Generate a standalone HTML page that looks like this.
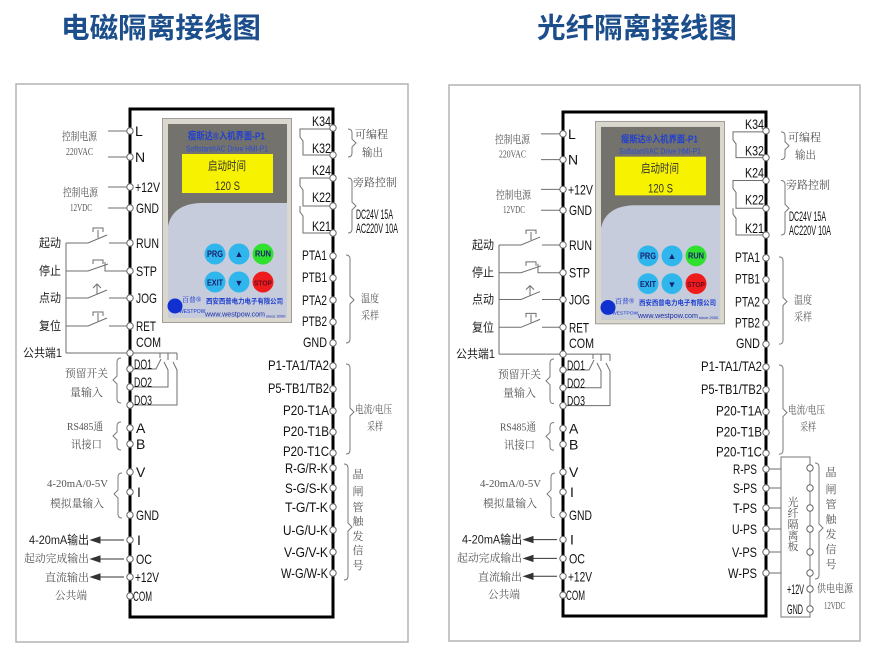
<!DOCTYPE html>
<html><head><meta charset="utf-8">
<style>
html,body{margin:0;padding:0;background:#fff;}
svg{display:block;}
text{dominant-baseline:central;}
.a{font-family:"Liberation Sans","Noto Sans CJK SC",sans-serif;fill:#111;font-size:14px;}
.sr{font-family:"Liberation Serif","Noto Serif CJK SC",serif;fill:#555;font-size:11px;}
.sn{font-family:"Liberation Sans","Noto Sans CJK SC",sans-serif;fill:#222;font-size:12px;}
.ttl{font-family:"Liberation Sans","Noto Sans CJK SC",sans-serif;fill:#1b4e8b;font-size:28px;font-weight:bold;}
.w{stroke:#6e6e6e;stroke-width:1;fill:none;}
.br{stroke:#7a7a7a;stroke-width:1;fill:none;}
.c{fill:#fff;stroke:#666;stroke-width:1;}
</style></head><body>
<svg width="875" height="663" viewBox="0 0 875 663" xmlns="http://www.w3.org/2000/svg">
<rect width="875" height="663" fill="#fff"/>
<text class="ttl" x="61" y="28" textLength="200" lengthAdjust="spacingAndGlyphs">电磁隔离接线图</text>
<text class="ttl" x="537" y="28" textLength="200" lengthAdjust="spacingAndGlyphs">光纤隔离接线图</text>

<rect x="16" y="84" width="392" height="558" fill="none" stroke="#b3b3b3" stroke-width="1.5"/>
<rect x="449" y="85" width="411" height="556" fill="none" stroke="#b3b3b3" stroke-width="1.5"/>

<!-- ================= LEFT COMMON ================= -->
<g>
<path d="M130,109 H333 V617 H130 Z" fill="none" stroke="#000" stroke-width="3"/>
<!-- HMI -->
<rect x="162.5" y="118.5" width="129" height="204" fill="#dad8ce" stroke="#a09e96"/>
<rect x="168" y="124" width="119" height="194" fill="#74726c"/>
<path d="M168,226 C171,212 181,204 200,203 L287,203 L287,318 L168,318 Z" fill="#c7ccdc"/>
<text x="188" y="137" font-family="Liberation Sans,Noto Sans CJK SC,sans-serif" font-size="10" font-weight="bold" fill="#1f3fd0" textLength="77" lengthAdjust="spacingAndGlyphs">瘦斯达®入机界面-P1</text>
<text x="186" y="149" font-family="Liberation Sans,sans-serif" font-size="8" fill="#2a4bd0" textLength="82" lengthAdjust="spacingAndGlyphs">Softstart®AC Drive HMI-P1</text>
<rect x="182" y="154" width="91" height="39" fill="#f6f200"/>
<text x="208" y="166" font-family="Liberation Sans,Noto Sans CJK SC,sans-serif" font-size="12" fill="#333" textLength="38" lengthAdjust="spacingAndGlyphs">启动时间</text>
<text x="215" y="186" font-family="Liberation Sans,sans-serif" font-size="12" fill="#333" textLength="25" lengthAdjust="spacingAndGlyphs">120 S</text>
<circle cx="215" cy="254" r="10.5" fill="#2fb6ec"/>
<circle cx="239" cy="254" r="10.5" fill="#2fb6ec"/>
<circle cx="263" cy="254" r="10.5" fill="#2fe02f"/>
<circle cx="215" cy="282" r="10.5" fill="#2fb6ec"/>
<circle cx="239" cy="282" r="10.5" fill="#2fb6ec"/>
<circle cx="263" cy="282" r="10.5" fill="#ee1c1c"/>
<g font-family="Liberation Sans,sans-serif" font-weight="bold" fill="#1a2070">
<text x="207" y="254" font-size="9" textLength="16" lengthAdjust="spacingAndGlyphs">PRG</text>
<text x="239" y="254" font-size="9" text-anchor="middle">▲</text>
<text x="255" y="254" font-size="8" textLength="16" lengthAdjust="spacingAndGlyphs">RUN</text>
<text x="207" y="283" font-size="8" textLength="16" lengthAdjust="spacingAndGlyphs">EXIT</text>
<text x="239" y="283" font-size="9" text-anchor="middle">▼</text>
<text x="254" y="283" font-size="7.5" fill="#6a0a20" textLength="18" lengthAdjust="spacingAndGlyphs">STOP</text>
</g>
<circle cx="175" cy="306" r="7.5" fill="#1030d0"/>
<text x="182" y="300" font-family="Liberation Serif,Noto Serif CJK SC,serif" font-size="7" fill="#1030d0">百普®</text>
<text x="179" y="312" font-family="Liberation Sans,sans-serif" font-size="5" fill="#1030d0">WESTPOW</text>
<text x="206" y="302" font-family="Liberation Sans,Noto Sans CJK SC,sans-serif" font-size="7" font-weight="bold" fill="#1d3fcf" textLength="77" lengthAdjust="spacingAndGlyphs">西安西普电力电子有限公司</text>
<text x="205" y="314" font-family="Liberation Sans,sans-serif" font-size="7.5" fill="#1d2fa0" textLength="60" lengthAdjust="spacingAndGlyphs">www.westpow.com</text>
<text x="266" y="316" font-family="Liberation Sans,sans-serif" font-size="4" fill="#1d2fa0">since 2000</text>

<!-- left wiring -->
<g class="w">
<path d="M108,131 H127 M108,157 H127 M108,187 H127 M108,208 H127"/>
<path d="M66,243 V353"/>
<path d="M66,243 H88 L107,235 M109,243 H127 M98,238 V230 M93,232 V228 H103 V232"/>
<path d="M66,271 H88 L108,264 M105,262 V271 H127 M93,264 V260 H103 V264"/>
<path d="M66,298 H88 L107,290 M109,298 H127 M97,294 V285 M93,288 L97,284 L101,288"/>
<path d="M66,326 H88 L107,318 M109,326 H127 M98,321 V313 M93,316 V312 H103 V316"/>
<path d="M66,353 H177"/>
<path d="M133,369 H156 L161,359 M160,353 V358"/>
<path d="M133,387 H168 V370 L164,362 M168,353 V360"/>
<path d="M133,405 H177 V370 L173,362 M177,353 V360"/>
<path d="M333,129 H300 V137 L303,141 V155 H333"/>
<path d="M333,178 H300 V186 L303,190 V206 H333"/>
<path d="M300,206 V212 L303,216 V233 H333"/>
</g>
<g stroke="#333" stroke-width="1" fill="#333">
<path d="M98,540 H124 M98,559 H124 M98,577 H124" fill="none"/>
<polygon points="91,540 100,537 100,543"/>
<polygon points="91,559 100,556 100,562"/>
<polygon points="91,577 100,574 100,580"/>
</g>
<!-- braces -->
<g class="br">
<path d="M121,358 Q117,358 117,362 V376 L113,380 L117,384 V399 Q117,403 121,403"/>
<path d="M121,422 Q117,422 117,426 V432 L113,436 L117,440 V446 Q117,450 121,450"/>
<path d="M122,473 Q118,473 118,477 V490 L114,494 L118,498 V514 Q118,518 122,518"/>
<path d="M348,129 Q352,129 352,133 V139 L356,143 L352,147 V153 Q352,157 348,157"/>
<path d="M348,178 Q352,178 352,182 V202 L356,206 L352,210 V229 Q352,233 348,233"/>
<path d="M346,255 Q350,255 350,259 V296 L354,300 L350,304 V339 Q350,343 346,343"/>
<path d="M346,364 Q350,364 350,368 V408 L354,412 L350,416 V450 Q350,454 346,454"/>
</g>
<!-- circles -->
<g class="c">
<circle cx="130" cy="131" r="3.2"/><circle cx="130" cy="157" r="3.2"/><circle cx="130" cy="187" r="3.2"/><circle cx="130" cy="208" r="3.2"/>
<circle cx="130" cy="243" r="3.2"/><circle cx="130" cy="271" r="3.2"/><circle cx="130" cy="298" r="3.2"/><circle cx="130" cy="326" r="3.2"/>
<circle cx="130" cy="353" r="3.2"/><circle cx="130" cy="369" r="3.2"/><circle cx="130" cy="387" r="3.2"/><circle cx="130" cy="405" r="3.2"/>
<circle cx="130" cy="428" r="3.2"/><circle cx="130" cy="444" r="3.2"/><circle cx="130" cy="472" r="3.2"/><circle cx="130" cy="492" r="3.2"/>
<circle cx="130" cy="515" r="3.2"/><circle cx="130" cy="540" r="3.2"/><circle cx="130" cy="559" r="3.2"/><circle cx="130" cy="577" r="3.2"/><circle cx="130" cy="596" r="3.2"/>
<circle cx="333" cy="128" r="3.2"/><circle cx="333" cy="155" r="3.2"/><circle cx="333" cy="178" r="3.2"/><circle cx="333" cy="206" r="3.2"/><circle cx="333" cy="233" r="3.2"/>
<circle cx="333" cy="256" r="3.2"/><circle cx="333" cy="278" r="3.2"/><circle cx="333" cy="300" r="3.2"/><circle cx="333" cy="322" r="3.2"/><circle cx="333" cy="343" r="3.2"/>
<circle cx="333" cy="366" r="3.2"/><circle cx="333" cy="389" r="3.2"/><circle cx="333" cy="411" r="3.2"/><circle cx="333" cy="432" r="3.2"/><circle cx="333" cy="453" r="3.2"/>
</g>
<!-- terminal labels -->
<text class="a" x="135" y="131" font-size="13">L</text>
<text class="a" x="135" y="157" font-size="13">N</text>
<text class="a" x="135" y="187" textLength="25" lengthAdjust="spacingAndGlyphs">+12V</text>
<text class="a" x="136" y="208" textLength="23" lengthAdjust="spacingAndGlyphs">GND</text>
<text class="a" x="136" y="243" textLength="23" lengthAdjust="spacingAndGlyphs">RUN</text>
<text class="a" x="136" y="271" textLength="21" lengthAdjust="spacingAndGlyphs">STP</text>
<text class="a" x="136" y="298" textLength="21" lengthAdjust="spacingAndGlyphs">JOG</text>
<text class="a" x="136" y="326" textLength="20" lengthAdjust="spacingAndGlyphs">RET</text>
<text class="a" x="136" y="342" textLength="25" lengthAdjust="spacingAndGlyphs">COM</text>
<text class="a" x="134" y="364" font-size="11" textLength="18" lengthAdjust="spacingAndGlyphs">DO1</text>
<text class="a" x="134" y="382" font-size="11" textLength="18" lengthAdjust="spacingAndGlyphs">DO2</text>
<text class="a" x="134" y="400" font-size="11" textLength="18" lengthAdjust="spacingAndGlyphs">DO3</text>
<text class="a" x="136" y="428" font-size="13">A</text>
<text class="a" x="136" y="444" font-size="13">B</text>
<text class="a" x="136" y="472" font-size="13">V</text>
<text class="a" x="137" y="492" font-size="13">I</text>
<text class="a" x="136" y="515" textLength="23" lengthAdjust="spacingAndGlyphs">GND</text>
<text class="a" x="137" y="540" font-size="13">I</text>
<text class="a" x="136" y="559" textLength="16" lengthAdjust="spacingAndGlyphs">OC</text>
<text class="a" x="135" y="577" textLength="24" lengthAdjust="spacingAndGlyphs">+12V</text>
<text class="a" x="133" y="596" font-size="10" textLength="19" lengthAdjust="spacingAndGlyphs">COM</text>
<text class="a" x="312" y="121" textLength="19" lengthAdjust="spacingAndGlyphs">K34</text>
<text class="a" x="312" y="148" textLength="19" lengthAdjust="spacingAndGlyphs">K32</text>
<text class="a" x="312" y="170" textLength="19" lengthAdjust="spacingAndGlyphs">K24</text>
<text class="a" x="312" y="197" textLength="19" lengthAdjust="spacingAndGlyphs">K22</text>
<text class="a" x="312" y="226" textLength="19" lengthAdjust="spacingAndGlyphs">K21</text>
<text class="a" x="302" y="255" textLength="25" lengthAdjust="spacingAndGlyphs">PTA1</text>
<text class="a" x="302" y="277" textLength="25" lengthAdjust="spacingAndGlyphs">PTB1</text>
<text class="a" x="302" y="300" textLength="25" lengthAdjust="spacingAndGlyphs">PTA2</text>
<text class="a" x="302" y="321" textLength="25" lengthAdjust="spacingAndGlyphs">PTB2</text>
<text class="a" x="303" y="342" textLength="24" lengthAdjust="spacingAndGlyphs">GND</text>
<text class="a" x="268" y="365" textLength="61" lengthAdjust="spacingAndGlyphs">P1-TA1/TA2</text>
<text class="a" x="268" y="388" textLength="61" lengthAdjust="spacingAndGlyphs">P5-TB1/TB2</text>
<text class="a" x="283" y="410" textLength="46" lengthAdjust="spacingAndGlyphs">P20-T1A</text>
<text class="a" x="283" y="431" textLength="46" lengthAdjust="spacingAndGlyphs">P20-T1B</text>
<text class="a" x="283" y="451" textLength="46" lengthAdjust="spacingAndGlyphs">P20-T1C</text>
<!-- left-side Chinese labels -->
<text class="sr" x="62" y="137" font-size="10" textLength="35" lengthAdjust="spacingAndGlyphs">控制电源</text>
<text class="sr" x="66" y="152" font-size="10" textLength="27" lengthAdjust="spacingAndGlyphs">220VAC</text>
<text class="sr" x="63" y="193" font-size="10" textLength="35" lengthAdjust="spacingAndGlyphs">控制电源</text>
<text class="sr" x="70" y="208" font-size="10" textLength="22" lengthAdjust="spacingAndGlyphs">12VDC</text>
<text class="sn" x="39" y="243" textLength="22" lengthAdjust="spacingAndGlyphs">起动</text>
<text class="sn" x="39" y="271" textLength="22" lengthAdjust="spacingAndGlyphs">停止</text>
<text class="sn" x="39" y="298" textLength="22" lengthAdjust="spacingAndGlyphs">点动</text>
<text class="sn" x="39" y="326" textLength="22" lengthAdjust="spacingAndGlyphs">复位</text>
<text class="sn" x="23" y="353" textLength="39" lengthAdjust="spacingAndGlyphs">公共端1</text>
<text class="sr" x="65" y="374" textLength="43" lengthAdjust="spacingAndGlyphs">预留开关</text>
<text class="sr" x="70" y="393" textLength="33" lengthAdjust="spacingAndGlyphs">量输入</text>
<text class="sr" x="67" y="427" textLength="36" lengthAdjust="spacingAndGlyphs">RS485通</text>
<text class="sr" x="71" y="445" textLength="31" lengthAdjust="spacingAndGlyphs">讯接口</text>
<text class="sr" x="47" y="484" textLength="61" lengthAdjust="spacingAndGlyphs">4-20mA/0-5V</text>
<text class="sr" x="50" y="504" textLength="54" lengthAdjust="spacingAndGlyphs">模拟量输入</text>
<text class="sn" x="29" y="540" fill="#111" textLength="60" lengthAdjust="spacingAndGlyphs">4-20mA输出</text>
<text class="sr" x="24" y="559" fill="#333" textLength="65" lengthAdjust="spacingAndGlyphs">起动完成输出</text>
<text class="sr" x="45" y="578" fill="#333" textLength="44" lengthAdjust="spacingAndGlyphs">直流输出</text>
<text class="sr" x="55" y="596" textLength="32" lengthAdjust="spacingAndGlyphs">公共端</text>
<!-- right-side Chinese labels -->
<text class="sr" x="355" y="135" font-size="12" textLength="33" lengthAdjust="spacingAndGlyphs">可编程</text>
<text class="sr" x="362" y="153" font-size="12" textLength="21" lengthAdjust="spacingAndGlyphs">输出</text>
<text class="sr" x="353" y="183" font-size="12" textLength="44" lengthAdjust="spacingAndGlyphs">旁路控制</text>
<text class="a" x="356" y="214" font-size="8" fill="#333" textLength="37" lengthAdjust="spacingAndGlyphs">DC24V 15A</text>
<text class="a" x="356" y="228" font-size="8" fill="#333" textLength="42" lengthAdjust="spacingAndGlyphs">AC220V 10A</text>
<text class="sr" x="361" y="299" font-size="9" textLength="18" lengthAdjust="spacingAndGlyphs">温度</text>
<text class="sr" x="361" y="316" font-size="9" textLength="18" lengthAdjust="spacingAndGlyphs">采样</text>
<text class="sr" x="355" y="410" font-size="10" textLength="37" lengthAdjust="spacingAndGlyphs">电流/电压</text>
<text class="sr" x="367" y="427" font-size="9" textLength="16" lengthAdjust="spacingAndGlyphs">采样</text>
</g>

<!-- LEFT ONLY -->
<g>
<g class="c">
<circle cx="333" cy="468" r="3.2"/><circle cx="333" cy="488" r="3.2"/><circle cx="333" cy="507" r="3.2"/><circle cx="333" cy="530" r="3.2"/><circle cx="333" cy="552" r="3.2"/><circle cx="333" cy="573" r="3.2"/>
</g>
<path class="br" d="M344,464 Q348,464 348,468 V523 L352,527 L348,531 V576 Q348,580 344,580"/>
<text class="a" x="285" y="468" textLength="43" lengthAdjust="spacingAndGlyphs">R-G/R-K</text>
<text class="a" x="285" y="488" textLength="43" lengthAdjust="spacingAndGlyphs">S-G/S-K</text>
<text class="a" x="285" y="507" textLength="43" lengthAdjust="spacingAndGlyphs">T-G/T-K</text>
<text class="a" x="283" y="530" textLength="45" lengthAdjust="spacingAndGlyphs">U-G/U-K</text>
<text class="a" x="284" y="552" textLength="44" lengthAdjust="spacingAndGlyphs">V-G/V-K</text>
<text class="a" x="281" y="573" textLength="47" lengthAdjust="spacingAndGlyphs">W-G/W-K</text>
<g class="sr" text-anchor="middle">
<text x="358" y="475">晶</text><text x="358" y="492">闸</text><text x="358" y="508">管</text><text x="358" y="522">触</text><text x="358" y="537">发</text><text x="358" y="551">信</text><text x="358" y="566">号</text>
</g>
</g>

<!-- ================= RIGHT COMMON ================= -->
<g transform="matrix(1,0,0,0.992,433,3.9)">
<path d="M130,109 H333 V617 H130 Z" fill="none" stroke="#000" stroke-width="3"/>
<rect x="162.5" y="118.5" width="129" height="204" fill="#dad8ce" stroke="#a09e96"/>
<rect x="168" y="124" width="119" height="194" fill="#74726c"/>
<path d="M168,226 C171,212 181,204 200,203 L287,203 L287,318 L168,318 Z" fill="#c7ccdc"/>
<text x="188" y="137" font-family="Liberation Sans,Noto Sans CJK SC,sans-serif" font-size="10" font-weight="bold" fill="#1f3fd0" textLength="77" lengthAdjust="spacingAndGlyphs">瘦斯达®入机界面-P1</text>
<text x="186" y="149" font-family="Liberation Sans,sans-serif" font-size="8" fill="#2a4bd0" textLength="82" lengthAdjust="spacingAndGlyphs">Softstart®AC Drive HMI-P1</text>
<rect x="182" y="154" width="91" height="39" fill="#f6f200"/>
<text x="208" y="166" font-family="Liberation Sans,Noto Sans CJK SC,sans-serif" font-size="12" fill="#333" textLength="38" lengthAdjust="spacingAndGlyphs">启动时间</text>
<text x="215" y="186" font-family="Liberation Sans,sans-serif" font-size="12" fill="#333" textLength="25" lengthAdjust="spacingAndGlyphs">120 S</text>
<circle cx="215" cy="254" r="10.5" fill="#2fb6ec"/>
<circle cx="239" cy="254" r="10.5" fill="#2fb6ec"/>
<circle cx="263" cy="254" r="10.5" fill="#2fe02f"/>
<circle cx="215" cy="282" r="10.5" fill="#2fb6ec"/>
<circle cx="239" cy="282" r="10.5" fill="#2fb6ec"/>
<circle cx="263" cy="282" r="10.5" fill="#ee1c1c"/>
<g font-family="Liberation Sans,sans-serif" font-weight="bold" fill="#1a2070">
<text x="207" y="254" font-size="9" textLength="16" lengthAdjust="spacingAndGlyphs">PRG</text>
<text x="239" y="254" font-size="9" text-anchor="middle">▲</text>
<text x="255" y="254" font-size="8" textLength="16" lengthAdjust="spacingAndGlyphs">RUN</text>
<text x="207" y="283" font-size="8" textLength="16" lengthAdjust="spacingAndGlyphs">EXIT</text>
<text x="239" y="283" font-size="9" text-anchor="middle">▼</text>
<text x="254" y="283" font-size="7.5" fill="#6a0a20" textLength="18" lengthAdjust="spacingAndGlyphs">STOP</text>
</g>
<circle cx="175" cy="306" r="7.5" fill="#1030d0"/>
<text x="182" y="300" font-family="Liberation Serif,Noto Serif CJK SC,serif" font-size="7" fill="#1030d0">百普®</text>
<text x="179" y="312" font-family="Liberation Sans,sans-serif" font-size="5" fill="#1030d0">WESTPOW</text>
<text x="206" y="302" font-family="Liberation Sans,Noto Sans CJK SC,sans-serif" font-size="7" font-weight="bold" fill="#1d3fcf" textLength="77" lengthAdjust="spacingAndGlyphs">西安西普电力电子有限公司</text>
<text x="205" y="314" font-family="Liberation Sans,sans-serif" font-size="7.5" fill="#1d2fa0" textLength="60" lengthAdjust="spacingAndGlyphs">www.westpow.com</text>
<text x="266" y="316" font-family="Liberation Sans,sans-serif" font-size="4" fill="#1d2fa0">since 2000</text>
<g class="w">
<path d="M108,131 H127 M108,157 H127 M108,187 H127 M108,208 H127"/>
<path d="M66,243 V353"/>
<path d="M66,243 H88 L107,235 M109,243 H127 M98,238 V230 M93,232 V228 H103 V232"/>
<path d="M66,271 H88 L108,264 M105,262 V271 H127 M93,264 V260 H103 V264"/>
<path d="M66,298 H88 L107,290 M109,298 H127 M97,294 V285 M93,288 L97,284 L101,288"/>
<path d="M66,326 H88 L107,318 M109,326 H127 M98,321 V313 M93,316 V312 H103 V316"/>
<path d="M66,353 H177"/>
<path d="M133,369 H156 L161,359 M160,353 V358"/>
<path d="M133,387 H168 V370 L164,362 M168,353 V360"/>
<path d="M133,405 H177 V370 L173,362 M177,353 V360"/>
<path d="M333,129 H300 V137 L303,141 V155 H333"/>
<path d="M333,178 H300 V186 L303,190 V206 H333"/>
<path d="M300,206 V212 L303,216 V233 H333"/>
</g>
<g stroke="#333" stroke-width="1" fill="#333">
<path d="M98,540 H124 M98,559 H124 M98,577 H124" fill="none"/>
<polygon points="91,540 100,537 100,543"/>
<polygon points="91,559 100,556 100,562"/>
<polygon points="91,577 100,574 100,580"/>
</g>
<g class="br">
<path d="M121,358 Q117,358 117,362 V376 L113,380 L117,384 V399 Q117,403 121,403"/>
<path d="M121,422 Q117,422 117,426 V432 L113,436 L117,440 V446 Q117,450 121,450"/>
<path d="M122,473 Q118,473 118,477 V490 L114,494 L118,498 V514 Q118,518 122,518"/>
<path d="M348,129 Q352,129 352,133 V139 L356,143 L352,147 V153 Q352,157 348,157"/>
<path d="M348,178 Q352,178 352,182 V202 L356,206 L352,210 V229 Q352,233 348,233"/>
<path d="M346,255 Q350,255 350,259 V296 L354,300 L350,304 V339 Q350,343 346,343"/>
<path d="M346,364 Q350,364 350,368 V408 L354,412 L350,416 V450 Q350,454 346,454"/>
</g>
<g class="c">
<circle cx="130" cy="131" r="3.2"/><circle cx="130" cy="157" r="3.2"/><circle cx="130" cy="187" r="3.2"/><circle cx="130" cy="208" r="3.2"/>
<circle cx="130" cy="243" r="3.2"/><circle cx="130" cy="271" r="3.2"/><circle cx="130" cy="298" r="3.2"/><circle cx="130" cy="326" r="3.2"/>
<circle cx="130" cy="353" r="3.2"/><circle cx="130" cy="369" r="3.2"/><circle cx="130" cy="387" r="3.2"/><circle cx="130" cy="405" r="3.2"/>
<circle cx="130" cy="428" r="3.2"/><circle cx="130" cy="444" r="3.2"/><circle cx="130" cy="472" r="3.2"/><circle cx="130" cy="492" r="3.2"/>
<circle cx="130" cy="515" r="3.2"/><circle cx="130" cy="540" r="3.2"/><circle cx="130" cy="559" r="3.2"/><circle cx="130" cy="577" r="3.2"/><circle cx="130" cy="596" r="3.2"/>
<circle cx="333" cy="128" r="3.2"/><circle cx="333" cy="155" r="3.2"/><circle cx="333" cy="178" r="3.2"/><circle cx="333" cy="206" r="3.2"/><circle cx="333" cy="233" r="3.2"/>
<circle cx="333" cy="256" r="3.2"/><circle cx="333" cy="278" r="3.2"/><circle cx="333" cy="300" r="3.2"/><circle cx="333" cy="322" r="3.2"/><circle cx="333" cy="343" r="3.2"/>
<circle cx="333" cy="366" r="3.2"/><circle cx="333" cy="389" r="3.2"/><circle cx="333" cy="411" r="3.2"/><circle cx="333" cy="432" r="3.2"/><circle cx="333" cy="453" r="3.2"/>
</g>
<text class="a" x="135" y="131" font-size="13">L</text>
<text class="a" x="135" y="157" font-size="13">N</text>
<text class="a" x="135" y="187" textLength="25" lengthAdjust="spacingAndGlyphs">+12V</text>
<text class="a" x="136" y="208" textLength="23" lengthAdjust="spacingAndGlyphs">GND</text>
<text class="a" x="136" y="243" textLength="23" lengthAdjust="spacingAndGlyphs">RUN</text>
<text class="a" x="136" y="271" textLength="21" lengthAdjust="spacingAndGlyphs">STP</text>
<text class="a" x="136" y="298" textLength="21" lengthAdjust="spacingAndGlyphs">JOG</text>
<text class="a" x="136" y="326" textLength="20" lengthAdjust="spacingAndGlyphs">RET</text>
<text class="a" x="136" y="342" textLength="25" lengthAdjust="spacingAndGlyphs">COM</text>
<text class="a" x="134" y="364" font-size="11" textLength="18" lengthAdjust="spacingAndGlyphs">DO1</text>
<text class="a" x="134" y="382" font-size="11" textLength="18" lengthAdjust="spacingAndGlyphs">DO2</text>
<text class="a" x="134" y="400" font-size="11" textLength="18" lengthAdjust="spacingAndGlyphs">DO3</text>
<text class="a" x="136" y="428" font-size="13">A</text>
<text class="a" x="136" y="444" font-size="13">B</text>
<text class="a" x="136" y="472" font-size="13">V</text>
<text class="a" x="137" y="492" font-size="13">I</text>
<text class="a" x="136" y="515" textLength="23" lengthAdjust="spacingAndGlyphs">GND</text>
<text class="a" x="137" y="540" font-size="13">I</text>
<text class="a" x="136" y="559" textLength="16" lengthAdjust="spacingAndGlyphs">OC</text>
<text class="a" x="135" y="577" textLength="24" lengthAdjust="spacingAndGlyphs">+12V</text>
<text class="a" x="133" y="596" font-size="10" textLength="19" lengthAdjust="spacingAndGlyphs">COM</text>
<text class="a" x="312" y="121" textLength="19" lengthAdjust="spacingAndGlyphs">K34</text>
<text class="a" x="312" y="148" textLength="19" lengthAdjust="spacingAndGlyphs">K32</text>
<text class="a" x="312" y="170" textLength="19" lengthAdjust="spacingAndGlyphs">K24</text>
<text class="a" x="312" y="197" textLength="19" lengthAdjust="spacingAndGlyphs">K22</text>
<text class="a" x="312" y="226" textLength="19" lengthAdjust="spacingAndGlyphs">K21</text>
<text class="a" x="302" y="255" textLength="25" lengthAdjust="spacingAndGlyphs">PTA1</text>
<text class="a" x="302" y="277" textLength="25" lengthAdjust="spacingAndGlyphs">PTB1</text>
<text class="a" x="302" y="300" textLength="25" lengthAdjust="spacingAndGlyphs">PTA2</text>
<text class="a" x="302" y="321" textLength="25" lengthAdjust="spacingAndGlyphs">PTB2</text>
<text class="a" x="303" y="342" textLength="24" lengthAdjust="spacingAndGlyphs">GND</text>
<text class="a" x="268" y="365" textLength="61" lengthAdjust="spacingAndGlyphs">P1-TA1/TA2</text>
<text class="a" x="268" y="388" textLength="61" lengthAdjust="spacingAndGlyphs">P5-TB1/TB2</text>
<text class="a" x="283" y="410" textLength="46" lengthAdjust="spacingAndGlyphs">P20-T1A</text>
<text class="a" x="283" y="431" textLength="46" lengthAdjust="spacingAndGlyphs">P20-T1B</text>
<text class="a" x="283" y="451" textLength="46" lengthAdjust="spacingAndGlyphs">P20-T1C</text>
<text class="sr" x="62" y="137" font-size="10" textLength="35" lengthAdjust="spacingAndGlyphs">控制电源</text>
<text class="sr" x="66" y="152" font-size="10" textLength="27" lengthAdjust="spacingAndGlyphs">220VAC</text>
<text class="sr" x="63" y="193" font-size="10" textLength="35" lengthAdjust="spacingAndGlyphs">控制电源</text>
<text class="sr" x="70" y="208" font-size="10" textLength="22" lengthAdjust="spacingAndGlyphs">12VDC</text>
<text class="sn" x="39" y="243" textLength="22" lengthAdjust="spacingAndGlyphs">起动</text>
<text class="sn" x="39" y="271" textLength="22" lengthAdjust="spacingAndGlyphs">停止</text>
<text class="sn" x="39" y="298" textLength="22" lengthAdjust="spacingAndGlyphs">点动</text>
<text class="sn" x="39" y="326" textLength="22" lengthAdjust="spacingAndGlyphs">复位</text>
<text class="sn" x="23" y="353" textLength="39" lengthAdjust="spacingAndGlyphs">公共端1</text>
<text class="sr" x="65" y="374" textLength="43" lengthAdjust="spacingAndGlyphs">预留开关</text>
<text class="sr" x="70" y="393" textLength="33" lengthAdjust="spacingAndGlyphs">量输入</text>
<text class="sr" x="67" y="427" textLength="36" lengthAdjust="spacingAndGlyphs">RS485通</text>
<text class="sr" x="71" y="445" textLength="31" lengthAdjust="spacingAndGlyphs">讯接口</text>
<text class="sr" x="47" y="484" textLength="61" lengthAdjust="spacingAndGlyphs">4-20mA/0-5V</text>
<text class="sr" x="50" y="504" textLength="54" lengthAdjust="spacingAndGlyphs">模拟量输入</text>
<text class="sn" x="29" y="540" fill="#111" textLength="60" lengthAdjust="spacingAndGlyphs">4-20mA输出</text>
<text class="sr" x="24" y="559" fill="#333" textLength="65" lengthAdjust="spacingAndGlyphs">起动完成输出</text>
<text class="sr" x="45" y="578" fill="#333" textLength="44" lengthAdjust="spacingAndGlyphs">直流输出</text>
<text class="sr" x="55" y="596" textLength="32" lengthAdjust="spacingAndGlyphs">公共端</text>
<text class="sr" x="355" y="135" font-size="12" textLength="33" lengthAdjust="spacingAndGlyphs">可编程</text>
<text class="sr" x="362" y="153" font-size="12" textLength="21" lengthAdjust="spacingAndGlyphs">输出</text>
<text class="sr" x="353" y="183" font-size="12" textLength="44" lengthAdjust="spacingAndGlyphs">旁路控制</text>
<text class="a" x="356" y="214" font-size="8" fill="#333" textLength="37" lengthAdjust="spacingAndGlyphs">DC24V 15A</text>
<text class="a" x="356" y="228" font-size="8" fill="#333" textLength="42" lengthAdjust="spacingAndGlyphs">AC220V 10A</text>
<text class="sr" x="361" y="299" font-size="9" textLength="18" lengthAdjust="spacingAndGlyphs">温度</text>
<text class="sr" x="361" y="316" font-size="9" textLength="18" lengthAdjust="spacingAndGlyphs">采样</text>
<text class="sr" x="355" y="410" font-size="10" textLength="37" lengthAdjust="spacingAndGlyphs">电流/电压</text>
<text class="sr" x="367" y="427" font-size="9" textLength="16" lengthAdjust="spacingAndGlyphs">采样</text>
</g>

<!-- RIGHT ONLY -->
<g>
<g class="w">
<path d="M769,469 H781 M769,488 H781 M769,508 H781 M769,529 H781 M769,552 H781 M769,573 H781"/>
</g>
<rect x="781" y="457" width="29" height="160" fill="none" stroke="#777" stroke-width="1"/>
<g class="c">
<circle cx="766" cy="469" r="3.2"/><circle cx="766" cy="488" r="3.2"/><circle cx="766" cy="508" r="3.2"/><circle cx="766" cy="529" r="3.2"/><circle cx="766" cy="552" r="3.2"/><circle cx="766" cy="573" r="3.2"/>
<circle cx="810" cy="468" r="3.2"/><circle cx="810" cy="488" r="3.2"/><circle cx="810" cy="508" r="3.2"/><circle cx="810" cy="529" r="3.2"/><circle cx="810" cy="552" r="3.2"/><circle cx="810" cy="573" r="3.2"/><circle cx="810" cy="589" r="3.2"/><circle cx="810" cy="609" r="3.2"/>
</g>
<text class="a" x="733" y="469" textLength="24" lengthAdjust="spacingAndGlyphs">R-PS</text>
<text class="a" x="733" y="488" textLength="24" lengthAdjust="spacingAndGlyphs">S-PS</text>
<text class="a" x="733" y="508" textLength="24" lengthAdjust="spacingAndGlyphs">T-PS</text>
<text class="a" x="732" y="529" textLength="25" lengthAdjust="spacingAndGlyphs">U-PS</text>
<text class="a" x="732" y="552" textLength="25" lengthAdjust="spacingAndGlyphs">V-PS</text>
<text class="a" x="728" y="573" textLength="29" lengthAdjust="spacingAndGlyphs">W-PS</text>
<g class="sr" font-size="8" text-anchor="middle">
<text x="793" y="503">光</text><text x="793" y="514">纤</text><text x="793" y="525">隔</text><text x="793" y="536">离</text><text x="793" y="547">板</text>
</g>
<text class="a" x="787" y="589" font-size="8" textLength="17" lengthAdjust="spacingAndGlyphs">+12V</text>
<text class="a" x="787" y="609" font-size="8" textLength="16" lengthAdjust="spacingAndGlyphs">GND</text>
<path class="br" d="M815,463 Q819,463 819,467 V524 L823,528 L819,532 V575 Q819,579 815,579"/>
<g class="sr" text-anchor="middle">
<text x="831" y="473">晶</text><text x="831" y="490">闸</text><text x="831" y="505">管</text><text x="831" y="520">触</text><text x="831" y="535">发</text><text x="831" y="550">信</text><text x="831" y="565">号</text>
</g>
<text class="sr" x="817" y="589" textLength="36" lengthAdjust="spacingAndGlyphs">供电电源</text>
<text class="sr" x="824" y="606" font-size="10" textLength="21" lengthAdjust="spacingAndGlyphs">12VDC</text>
</g>
</svg>
</body></html>
